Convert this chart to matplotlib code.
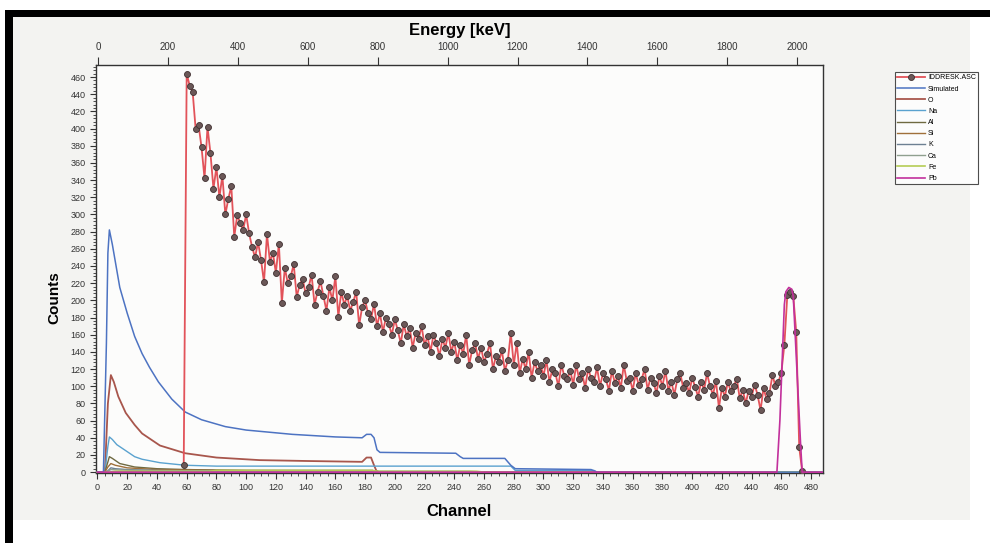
import numpy as np
import matplotlib.pyplot as plt
from matplotlib.patches import Rectangle
from matplotlib.ticker import MultipleLocator

plt.rcParams['font.family'] = ['Liberation Sans', 'DejaVu Sans']

# Measured spectrum, one point every 2 channels from channel 58
meas_start = 58
meas_step = 2
meas_counts = [
    8, 464, 450, 443, 400, 404, 378, 342, 402, 371,
    330, 355, 320, 345, 300, 318, 333, 274, 299, 290,
    282, 300, 278, 262, 250, 268, 247, 221, 277, 245,
    255, 232, 266, 197, 238, 220, 228, 242, 204, 218,
    225, 208, 215, 230, 195, 210, 222, 205, 188, 215,
    200, 228, 181, 210, 195, 205, 188, 198, 210, 171,
    192, 200, 185, 178, 196, 170, 185, 163, 180, 172,
    160, 178, 165, 150, 172, 158, 168, 145, 162, 155,
    170, 148, 158, 140, 160, 150, 135, 155, 145, 162,
    140, 152, 130, 148, 138, 160, 125, 142, 150, 132,
    145, 128, 138, 150, 120, 135, 128, 142, 118, 130,
    162, 125, 150, 115, 132, 120, 140, 110, 128, 118,
    125, 112, 130, 105, 120, 115, 100, 125, 112, 108,
    118, 102, 125, 108, 115, 98, 120, 110, 105, 122,
    100, 115, 108, 95, 118, 104, 112, 98, 125, 106,
    110, 95, 115, 102, 108, 120, 96, 110, 104, 92,
    112, 100, 118, 95, 105, 90, 108, 115, 98, 104,
    92, 110, 99, 88, 105, 96, 115, 100, 90, 106,
    75, 98, 88, 105, 94, 100, 109, 86, 96, 80,
    95, 88, 102, 90, 72, 98, 85, 92, 113, 100,
    105, 116, 148, 206, 210, 205, 163, 29, 1,
]
meas_channel = meas_start + meas_step * np.arange(len(meas_counts))

# Simulated components (channel, counts)
sim_ch = [0, 4, 6, 7, 8, 10, 12, 15, 20, 25, 30, 35, 41, 50, 59, 70, 86, 100, 131, 160,
          178, 181, 184, 186, 188, 190, 241, 244, 246, 274, 278, 281, 332, 336, 488]
sim_ct = [0, 0, 150, 255, 282, 265, 245, 215, 185, 158, 138, 122, 105, 85, 70, 61, 53, 49, 44, 41,
          40, 44, 44, 40, 26, 23, 22, 18, 16, 16, 8, 4, 3, 0, 0]

o_ch = [0, 5, 7, 9, 11, 14, 19, 25, 30, 42, 59, 80, 109, 140, 178, 181, 184, 186, 188, 488]
o_ct = [0, 0, 80, 113, 105, 88, 69, 55, 45, 31, 22, 17, 14, 13, 12, 17, 17, 8, 0, 0]

na_ch = [0, 5, 7, 8, 10, 13, 19, 25, 30, 42, 59, 80, 120, 180, 278, 281, 334, 336, 488]
na_ct = [0, 0, 30, 41, 38, 32, 25, 18, 15, 11, 8, 7, 7, 7, 7, 2, 2, 0, 0]

al_ch = [0, 5, 7, 8, 10, 15, 25, 40, 60, 100, 185, 188, 488]
al_ct = [0, 0, 12, 18, 16, 10, 6, 4, 3, 2, 2, 0, 0]

si_ch = [0, 5, 7, 9, 12, 20, 40, 80, 188, 190, 488]
si_ct = [0, 0, 6, 10, 8, 5, 3, 2, 1.5, 0, 0]

k_ch = [0, 6, 9, 12, 20, 40, 60, 76, 78, 488]
k_ct = [0, 0, 5, 4, 3, 2, 1.5, 1.5, 0, 0]

ca_ch = [0, 6, 9, 15, 30, 60, 100, 250, 260, 488]
ca_ct = [0, 0, 3, 2.5, 2, 1.5, 1, 1, 0, 0]

fe_ch = [0, 8, 12, 60, 75, 80, 185, 188, 255, 260, 488]
fe_ct = [0, 0, 1, 1, 1, 2, 2, 1, 1, 0, 0]

pb_ch = [0, 457, 459, 461, 462, 463, 465, 467, 468, 469, 471, 473, 474, 488]
pb_ct = [0, 0, 60, 150, 195, 210, 215, 213, 205, 170, 100, 30, 0, 0]

fig = plt.figure(figsize=(9.9, 5.43), dpi=100)
fig.patch.set_facecolor('white')
# scanned page and black frame
fig.patches.append(Rectangle((12/990, 1-520/543), 958/990, 503/543, transform=fig.transFigure,
                             facecolor='#f3f3f1', edgecolor='none', zorder=-10))
fig.patches.append(Rectangle((5/990, 1-17/543), 985/990, 7/543, transform=fig.transFigure,
                             facecolor='black', edgecolor='none'))
fig.patches.append(Rectangle((5/990, 0), 8/990, 1-10/543, transform=fig.transFigure,
                             facecolor='black', edgecolor='none'))

ax = fig.add_axes([96/990, 1-473/543, 727/990, 408/543])
ax.set_facecolor('#fcfcfb')

h_meas, = ax.plot(meas_channel, meas_counts, color='#e2535a', lw=1.3, marker='o', ms=4.3,
                  mfc='#6b5858', mec='#3f3030', mew=0.6, zorder=5, label='IDDRESK.ASC')
h_sim, = ax.plot(sim_ch, sim_ct, color='#4d73c2', lw=1.1, zorder=4, label='Simulated')
h_o, = ax.plot(o_ch, o_ct, color='#a8564c', lw=1.3, zorder=3, label='O')
h_na, = ax.plot(na_ch, na_ct, color='#5aa2cf', lw=1.0, zorder=3, label='Na')
h_al, = ax.plot(al_ch, al_ct, color='#6f6a42', lw=1.0, zorder=3, label='Al')
h_si, = ax.plot(si_ch, si_ct, color='#a0703a', lw=1.0, zorder=3, label='Si')
h_k, = ax.plot(k_ch, k_ct, color='#6d8092', lw=1.0, zorder=3, label='K')
h_ca, = ax.plot(ca_ch, ca_ct, color='#8fa08f', lw=1.0, zorder=3, label='Ca')
h_fe, = ax.plot(fe_ch, fe_ct, color='#b5cc55', lw=1.2, zorder=3, label='Fe')
h_pb, = ax.plot(pb_ch, pb_ct, color='#c2309c', lw=1.2, zorder=6, label='Pb')

ax.set_xlim(-1, 488)
ax.set_ylim(-1, 474)
ax.xaxis.set_major_locator(MultipleLocator(20))
ax.xaxis.set_minor_locator(MultipleLocator(5))
ax.yaxis.set_major_locator(MultipleLocator(20))
ax.yaxis.set_minor_locator(MultipleLocator(4))
ax.tick_params(which='both', direction='out', colors='#333333', labelsize=6.5, top=False, right=False)
ax.tick_params(which='major', length=4)
ax.tick_params(which='minor', length=2)
for s in ax.spines.values():
    s.set_color('#333333')
    s.set_linewidth(1.0)

ax.set_xlabel('Channel', fontsize=12, fontweight='bold')
ax.xaxis.set_label_coords(0.5, -0.075)
ax.set_ylabel('Counts', fontsize=11, fontweight='bold')
ax.yaxis.set_label_coords(-0.047, 0.43)

ax2 = ax.twiny()
ax2.set_xlim(-6, 2074)
ax2.xaxis.set_major_locator(MultipleLocator(200))
ax2.tick_params(direction='out', length=6, colors='#333333', labelsize=7)
ax2.set_xlabel('Energy [keV]', fontsize=12, fontweight='bold')
ax2.xaxis.set_label_coords(0.5, 1.074)
for s in ax2.spines.values():
    s.set_visible(False)

handles = [h_meas, h_sim, h_o, h_na, h_al, h_si, h_k, h_ca, h_fe, h_pb]
leg = fig.legend(handles=handles, loc='upper left', bbox_to_anchor=(895/990, 1-72/543),
                 fontsize=5, frameon=True, fancybox=False, edgecolor='#222222',
                 handlelength=4.0, labelspacing=0.6, borderpad=0.35, handletextpad=0.4,
                 borderaxespad=0, numpoints=1)
leg.get_frame().set_linewidth(0.8)

fig.savefig('out.png', dpi=100)
